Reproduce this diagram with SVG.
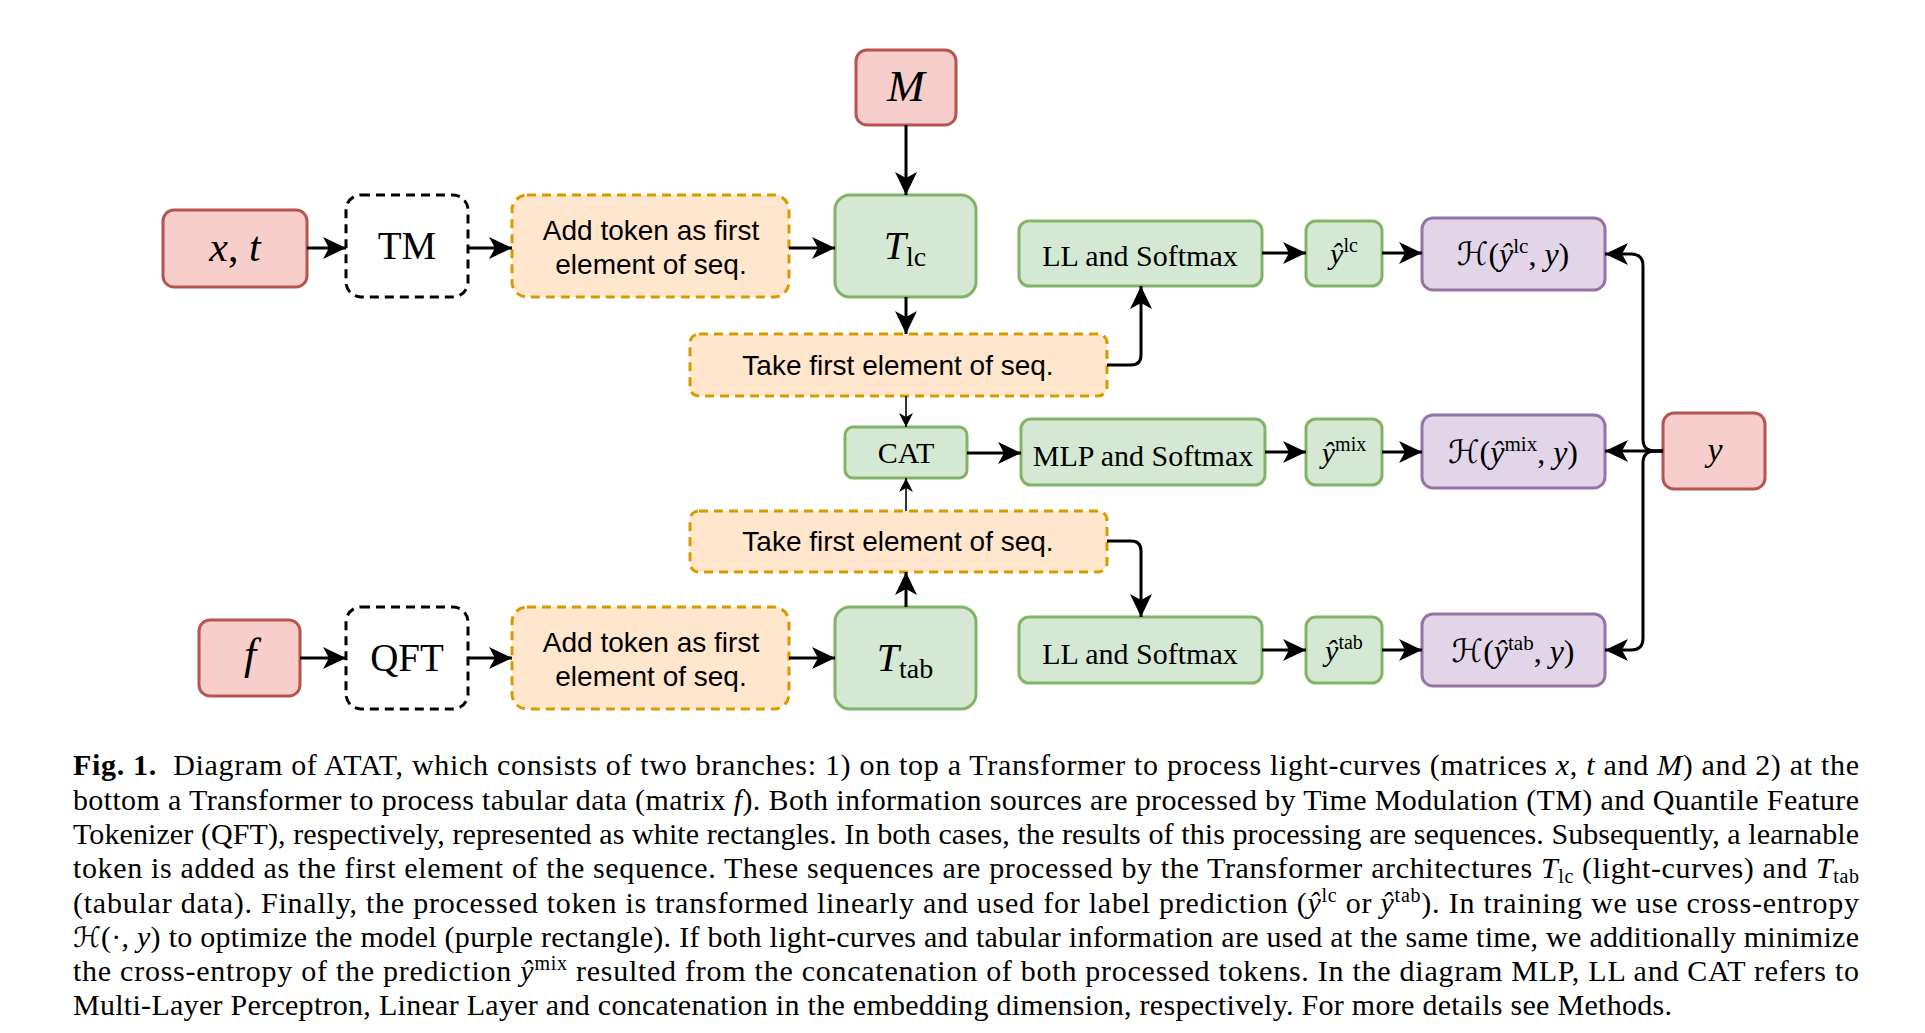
<svg xmlns="http://www.w3.org/2000/svg" width="1925" height="1033" viewBox="0 0 1925 1033">
<style>
.red{fill:#f8cecc;stroke:#b85450;stroke-width:3}
.grn{fill:#d5e8d4;stroke:#82b366;stroke-width:3}
.org{fill:#ffe6cc;stroke:#d79b00;stroke-width:3;stroke-dasharray:9 6}
.pur{fill:#e1d5e7;stroke:#9673a6;stroke-width:3}
.wht{fill:#ffffff;stroke:#000000;stroke-width:3;stroke-dasharray:9 6}
.sans{font-family:"Liberation Sans",Arial,sans-serif;font-size:28px;fill:#000}
.serif{font-family:"Liberation Serif","Times New Roman",serif;fill:#000}
.m{font-family:"Liberation Serif","Times New Roman",serif;font-style:italic}
.up{font-family:"Liberation Serif","Times New Roman",serif;font-style:normal}
.cal{font-family:"DejaVu Serif","DejaVu Sans",serif;font-style:normal}
.thick{fill:none;stroke:#000;stroke-width:3}
.thin{fill:none;stroke:#000;stroke-width:1.6}
.cap{font-family:"Liberation Serif","Times New Roman",serif;font-size:30px;fill:#000}
</style>
<defs>
<marker id="ah" markerUnits="userSpaceOnUse" markerWidth="24" markerHeight="24" viewBox="0 0 24 24" refX="23" refY="12" orient="auto">
<path d="M0,1 L23,12 L0,23 L6,12 Z" fill="#000"/>
</marker>
<marker id="ahs" markerUnits="userSpaceOnUse" markerWidth="15" markerHeight="15" viewBox="0 0 15 15" refX="14" refY="7.5" orient="auto">
<path d="M0,0.5 L14,7.5 L0,14.5 L4,7.5 Z" fill="#000"/>
</marker>
</defs>
<rect width="1925" height="1033" fill="#ffffff"/>

<g id="node-M"><rect class="red" x="856" y="50" width="100" height="75" rx="11"/><text class="m" x="906" y="101" font-size="45" text-anchor="middle">M</text></g>
<g id="node-xt"><rect class="red" x="163" y="210" width="144" height="77" rx="11"/><text class="m" x="235" y="261" font-size="42" text-anchor="middle">x<tspan class="up">,</tspan> t</text></g>
<g id="node-TM"><rect class="wht" x="346" y="195" width="122" height="102" rx="15"/><text class="serif" x="407" y="259" font-size="39" text-anchor="middle">TM</text></g>
<g id="node-addtop"><rect class="org" x="512" y="195" width="277" height="102" rx="15"/><text class="sans" x="651" y="240" text-anchor="middle">Add token as first</text><text class="sans" x="651" y="274" text-anchor="middle">element of seq.</text></g>
<g id="node-Tlc"><rect class="grn" x="835" y="195" width="141" height="102" rx="15"/><text class="m" x="905" y="259" font-size="40" text-anchor="middle">T<tspan class="up" font-size="28" dy="7">lc</tspan></text></g>
<g id="node-taketop"><rect class="org" x="690" y="334" width="417" height="62" rx="9"/><text class="sans" x="898" y="375" text-anchor="middle">Take first element of seq.</text></g>
<g id="node-CAT"><rect class="grn" x="845" y="427" width="122" height="51" rx="8"/><text class="serif" x="906" y="463" font-size="30" text-anchor="middle">CAT</text></g>
<g id="node-takebot"><rect class="org" x="690" y="511" width="417" height="61" rx="9"/><text class="sans" x="898" y="551" text-anchor="middle">Take first element of seq.</text></g>
<g id="node-f"><rect class="red" x="199" y="620" width="101" height="76" rx="11"/><text class="m" x="250" y="669" font-size="44" text-anchor="middle">f</text></g>
<g id="node-QFT"><rect class="wht" x="346" y="607" width="122" height="102" rx="15"/><text class="serif" x="407" y="671" font-size="39" text-anchor="middle">QFT</text></g>
<g id="node-addbot"><rect class="org" x="512" y="607" width="277" height="102" rx="15"/><text class="sans" x="651" y="652" text-anchor="middle">Add token as first</text><text class="sans" x="651" y="686" text-anchor="middle">element of seq.</text></g>
<g id="node-Ttab"><rect class="grn" x="835" y="607" width="141" height="102" rx="15"/><text class="m" x="905" y="671" font-size="40" text-anchor="middle">T<tspan class="up" font-size="28" dy="7">tab</tspan></text></g>

<g id="node-LLtop"><rect class="grn" x="1019" y="221" width="243" height="65" rx="10"/><text class="serif" x="1140" y="266" font-size="30" text-anchor="middle">LL and Softmax</text></g>
<g id="node-ylc"><rect class="grn" x="1306" y="221" width="76" height="65" rx="10"/><text class="m" x="1344" y="264" font-size="30" text-anchor="middle">ŷ<tspan class="up" font-size="20" dy="-12">lc</tspan></text></g>
<g id="node-Hlc"><rect class="pur" x="1422" y="218" width="183" height="72" rx="11"/><text class="up" x="1513" y="265" font-size="32" text-anchor="middle"><tspan class="cal">ℋ</tspan>(<tspan class="m">ŷ</tspan><tspan font-size="21" dy="-12">lc</tspan><tspan dy="12">, </tspan><tspan class="m">y</tspan>)</text></g>

<g id="node-MLP"><rect class="grn" x="1021" y="419" width="244" height="66" rx="10"/><text class="serif" x="1143" y="466" font-size="30" text-anchor="middle">MLP and Softmax</text></g>
<g id="node-ymix"><rect class="grn" x="1306" y="419" width="76" height="66" rx="10"/><text class="m" x="1344" y="463" font-size="30" text-anchor="middle">ŷ<tspan class="up" font-size="20" dy="-12">mix</tspan></text></g>
<g id="node-Hmix"><rect class="pur" x="1422" y="415" width="183" height="73" rx="11"/><text class="up" x="1513" y="463" font-size="32" text-anchor="middle"><tspan class="cal">ℋ</tspan>(<tspan class="m">ŷ</tspan><tspan font-size="21" dy="-12">mix</tspan><tspan dy="12">, </tspan><tspan class="m">y</tspan>)</text></g>
<g id="node-y"><rect class="red" x="1663" y="413" width="102" height="76" rx="11"/><text class="m" x="1715" y="461" font-size="34" text-anchor="middle">y</text></g>

<g id="node-LLbot"><rect class="grn" x="1019" y="617" width="243" height="66" rx="10"/><text class="serif" x="1140" y="664" font-size="30" text-anchor="middle">LL and Softmax</text></g>
<g id="node-ytab"><rect class="grn" x="1306" y="617" width="76" height="66" rx="10"/><text class="m" x="1344" y="661" font-size="30" text-anchor="middle">ŷ<tspan class="up" font-size="20" dy="-12">tab</tspan></text></g>
<g id="node-Htab"><rect class="pur" x="1422" y="614" width="183" height="72" rx="11"/><text class="up" x="1513" y="662" font-size="32" text-anchor="middle"><tspan class="cal">ℋ</tspan>(<tspan class="m">ŷ</tspan><tspan font-size="21" dy="-12">tab</tspan><tspan dy="12">, </tspan><tspan class="m">y</tspan>)</text></g>

<g id="connectors">
<path class="thick" marker-end="url(#ah)" d="M307,248 H346"/>
<path class="thick" marker-end="url(#ah)" d="M468,248 H512"/>
<path class="thick" marker-end="url(#ah)" d="M789,248 H835"/>
<path class="thick" marker-end="url(#ah)" d="M906,125 V195"/>
<path class="thick" marker-end="url(#ah)" d="M906,297 V334"/>
<path class="thin" marker-end="url(#ahs)" d="M906,396 V427"/>
<path class="thick" marker-end="url(#ah)" d="M1107,365 H1131 Q1141,365 1141,355 V286"/>
<path class="thick" marker-end="url(#ah)" d="M1262,253 H1306"/>
<path class="thick" marker-end="url(#ah)" d="M1382,253 H1422"/>
<path class="thick" marker-end="url(#ah)" d="M967,453 H1021"/>
<path class="thick" marker-end="url(#ah)" d="M1265,452 H1306"/>
<path class="thick" marker-end="url(#ah)" d="M1382,452 H1422"/>
<path class="thin" marker-end="url(#ahs)" d="M906,511 V478"/>
<path class="thick" marker-end="url(#ah)" d="M906,607 V572"/>
<path class="thick" marker-end="url(#ah)" d="M1107,541 H1131 Q1141,541 1141,551 V617"/>
<path class="thick" marker-end="url(#ah)" d="M1262,650 H1306"/>
<path class="thick" marker-end="url(#ah)" d="M1382,650 H1422"/>
<path class="thick" marker-end="url(#ah)" d="M300,658 H346"/>
<path class="thick" marker-end="url(#ah)" d="M468,658 H512"/>
<path class="thick" marker-end="url(#ah)" d="M789,658 H835"/>
<path class="thick" marker-end="url(#ah)" d="M1663,451 H1655 Q1643,451 1643,439 V266 Q1643,254 1631,254 H1605"/>
<path class="thick" marker-end="url(#ah)" d="M1663,451 H1605"/>
<path class="thick" marker-end="url(#ah)" d="M1663,451 H1655 Q1643,451 1643,463 V638 Q1643,650 1631,650 H1605"/>
</g>

<g id="caption">
<text class="cap" x="73" y="775" textLength="1786" lengthAdjust="spacing"><tspan font-weight="bold">Fig. 1.</tspan><tspan dx="8"> Diagram of ATAT, which consists of two branches: 1) on top a Transformer to process light-curves (matrices </tspan><tspan font-style="italic">x</tspan>, <tspan font-style="italic">t</tspan> and <tspan font-style="italic">M</tspan>) and 2) at the</text>
<text class="cap" x="73" y="810" textLength="1786" lengthAdjust="spacing">bottom a Transformer to process tabular data (matrix <tspan font-style="italic">f</tspan>). Both information sources are processed by Time Modulation (TM) and Quantile Feature</text>
<text class="cap" x="73" y="844" textLength="1786" lengthAdjust="spacing">Tokenizer (QFT), respectively, represented as white rectangles. In both cases, the results of this processing are sequences. Subsequently, a learnable</text>
<text class="cap" x="73" y="878" textLength="1786" lengthAdjust="spacing">token is added as the first element of the sequence. These sequences are processed by the Transformer architectures <tspan font-style="italic">T</tspan><tspan font-size="20" dy="5">lc</tspan><tspan dy="-5"> (light-curves) and </tspan><tspan font-style="italic">T</tspan><tspan font-size="20" dy="5">tab</tspan></text>
<text class="cap" x="73" y="913" textLength="1786" lengthAdjust="spacing">(tabular data). Finally, the processed token is transformed linearly and used for label prediction (<tspan font-style="italic">ŷ</tspan><tspan font-size="20" dy="-11">lc</tspan><tspan dy="11"> or </tspan><tspan font-style="italic">ŷ</tspan><tspan font-size="20" dy="-11">tab</tspan><tspan dy="11">). In training we use cross-entropy</tspan></text>
<text class="cap" x="73" y="947" textLength="1786" lengthAdjust="spacing"><tspan class="cal" font-size="28">ℋ</tspan>(·, <tspan font-style="italic">y</tspan>) to optimize the model (purple rectangle). If both light-curves and tabular information are used at the same time, we additionally minimize</text>
<text class="cap" x="73" y="981" textLength="1786" lengthAdjust="spacing">the cross-entropy of the prediction <tspan font-style="italic">ŷ</tspan><tspan font-size="20" dy="-11">mix</tspan><tspan dy="11"> resulted from the concatenation of both processed tokens. In the diagram MLP, LL and CAT refers to</tspan></text>
<text class="cap" x="73" y="1015" textLength="1599" lengthAdjust="spacing">Multi-Layer Perceptron, Linear Layer and concatenation in the embedding dimension, respectively. For more details see Methods.</text>
</g>
</svg>
